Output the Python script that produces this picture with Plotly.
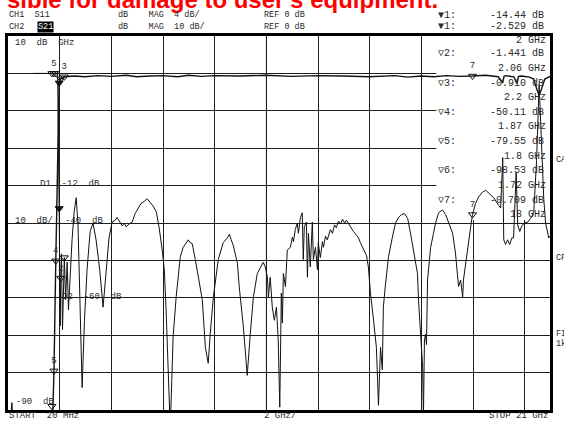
import numpy as np
import plotly.graph_objects as go

# ---------------- data ----------------
# CH2: S21, 10 dB/div, REF 0 dB (trace that sits near 0 dB above 2 GHz)
s21_freq = [0.02, 0.14, 0.17, 0.20, 0.80, 1.40, 1.72, 1.80, 1.87, 1.95,
            2.00, 2.06, 2.20, 2.60, 3.00, 3.50, 4.00, 4.60, 5.00, 5.50,
            6.00, 6.60, 7.00, 7.50, 8.00, 9.00, 10.0, 11.0, 12.0, 13.0,
            14.0, 15.0, 15.5, 16.0, 16.5, 17.0, 17.5, 18.0, 18.5, 19.0,
            19.17, 19.22, 19.30, 19.60, 19.72, 19.78, 19.90, 20.20, 20.37, 20.48,
            20.58, 20.68, 20.80, 21.0]
s21_db = [-96, -95, -88, -96, -97, -96, -98.53, -79.55, -50.11, -14.0,
          -2.529, -1.441, -0.910, -0.7, -0.9, -0.6, -0.8, -0.5, -0.9, -0.7,
          -0.6, -0.9, -0.5, -0.8, -0.6, -0.7, -0.5, -0.8, -0.6, -0.7,
          -0.9, -0.6, -1.0, -0.7, -0.9, -0.6, -0.8, -0.709, -0.5, -0.9,
          -2.5, -0.8, -0.6, -0.9, -2.7, -0.8, -0.7, -1.0, -1.5, -4.0,
          -6.0, -4.0, -1.5, -0.8]

# CH1: S11, 4 dB/div, REF 0 dB (oscillating return-loss trace)
s11_freq = [0.99, 1.45, 1.94, 2.00, 2.04, 2.06, 2.09, 2.13, 2.17, 2.20,
            2.25, 2.31, 2.36, 2.42, 2.50, 2.58, 2.66, 2.73, 2.81, 2.89,
            2.98, 3.08, 3.20, 3.31, 3.43, 3.57, 3.70, 3.82, 3.93, 4.05,
            4.17, 4.24, 4.32, 4.44, 4.52, 4.59, 4.71, 4.83, 4.94, 5.06,
            5.17, 5.29, 5.40, 5.52, 5.64, 5.76, 5.87, 5.99, 6.07, 6.14,
            6.22, 6.30, 6.36, 6.41, 6.53, 6.69, 6.80, 6.92, 7.00, 7.07,
            7.15, 7.27, 7.38, 7.46, 7.54, 7.66, 7.77, 7.85, 7.97, 8.16,
            8.35, 8.51, 8.59, 8.66, 8.74, 8.90, 8.97, 9.13, 9.28, 9.40,
            9.52, 9.67, 9.79, 9.90, 9.98, 10.06, 10.10, 10.17, 10.25, 10.33,
            10.41, 10.48, 10.54, 10.60, 10.64, 10.68, 10.76, 10.83, 10.95, 11.03,
            11.07, 11.14, 11.22, 11.26, 11.34, 11.41, 11.45, 11.49, 11.57, 11.61,
            11.65, 11.72, 11.80, 11.84, 11.92, 12.00, 12.03, 12.11, 12.19, 12.23,
            12.31, 12.38, 12.50, 12.58, 12.66, 12.73, 12.81, 12.89, 12.97, 13.05,
            13.12, 13.20, 13.28, 13.39, 13.51, 13.59, 13.66, 13.78, 13.90, 13.97,
            14.05, 14.17, 14.28, 14.36, 14.44, 14.51, 14.55, 14.63, 14.75, 14.90,
            15.02, 15.14, 15.25, 15.37, 15.49, 15.60, 15.72, 15.87, 15.91, 15.99,
            16.07, 16.10, 16.14, 16.18, 16.22, 16.26, 16.38, 16.49, 16.57, 16.69,
            16.76, 16.84, 16.96, 17.07, 17.23, 17.34, 17.42, 17.46, 17.54, 17.62,
            17.65, 17.73, 17.85, 17.93, 18.00, 18.08, 18.12, 18.24, 18.31, 18.39,
            18.51, 18.62, 18.82, 19.01, 19.09, 19.17, 19.21, 19.28, 19.36, 19.44,
            19.52, 19.59, 19.69, 19.75, 19.83, 19.91, 20.02, 20.14, 20.25, 20.37,
            20.48, 20.58, 20.68, 20.76, 20.83, 20.95, 21.00]
s11_db = [0.0, 0.0, 0.0, -14.44, -27.0, -21.9, -19.3, -27.4, -22.0, -19.7,
          -24.2, -20.2, -25.3, -21.6, -17.8, -14.8, -13.3, -16.2, -24.2, -33.6,
          -26.4, -21.0, -16.9, -16.0, -17.8, -21.0, -25.0, -21.0, -17.6, -15.9,
          -15.7, -15.4, -15.8, -16.3, -16.0, -16.4, -16.1, -15.9, -15.0, -14.4,
          -13.9, -13.7, -13.4, -13.8, -14.2, -14.8, -16.5, -18.9, -21.0, -25.3,
          -31.7, -38.0, -32.8, -28.2, -23.9, -19.6, -18.6, -18.1, -17.8, -18.1,
          -18.2, -19.9, -21.8, -23.2, -24.2, -29.3, -31.0, -27.8, -23.9, -19.9,
          -18.1, -17.6, -17.2, -17.8, -18.4, -20.3, -22.8, -27.1, -32.3, -27.8,
          -23.9, -21.4, -20.8, -20.2, -20.7, -21.8, -23.9, -21.8, -25.0, -26.4,
          -25.0, -28.5, -35.7, -23.5, -26.7, -21.4, -22.8, -18.9, -18.6, -17.5,
          -18.0, -16.7, -16.0, -17.1, -15.4, -14.9, -19.9, -16.4, -15.9, -21.8,
          -17.1, -20.7, -15.9, -19.9, -18.6, -21.0, -18.1, -19.7, -18.0, -18.6,
          -17.4, -17.8, -16.7, -17.1, -16.2, -16.5, -15.8, -16.1, -15.6, -16.0,
          -15.7, -16.1, -16.4, -16.9, -17.3, -17.6, -18.1, -18.9, -19.5, -20.7,
          -23.5, -26.4, -29.3, -35.5, -29.3, -31.7, -25.0, -22.6, -19.6, -17.5,
          -16.0, -15.4, -15.1, -15.0, -15.5, -17.1, -19.2, -21.4, -24.2, -27.8,
          -31.4, -37.0, -28.5, -27.9, -29.0, -22.1, -18.6, -17.1, -16.0, -14.9,
          -14.8, -14.6, -15.1, -15.9, -17.1, -19.2, -21.4, -22.8, -22.1, -23.9,
          -22.1, -20.3, -18.1, -16.4, -15.1, -14.4, -13.9, -13.2, -12.9, -12.7,
          -12.5, -12.8, -13.3, -14.1, -14.4, -9.0, -17.8, -18.3, -17.8, -18.3,
          -17.6, -17.6, -10.6, -16.2, -16.9, -16.3, -16.0, -15.9, -15.5, -14.9,
          -9.3, -1.2, -8.2, -13.5, -16.0, -17.6, -17.4]

# markers 1..7
marker_names = ["1", "2", "3", "4", "5", "6", "7"]
marker_freq = [2.0, 2.06, 2.2, 1.87, 1.8, 1.72, 18.0]
marker_s21 = [-2.529, -1.441, -0.910, -50.11, -79.55, -98.53, -0.709]
marker_s11 = [-14.44, -21.9, -19.7, 0.0, 0.0, 0.0, -15.1]
marker_label_s21 = ["", "", "3", "4", "5", "", "7"]
marker_label_s11 = ["", "2", "", "", "5", "", "7"]
ch1_marker1 = -14.44

assert len(s21_freq) == len(s21_db)
assert len(s11_freq) == len(s11_db)

F_START, F_STOP = 0.02, 21.0
S21_TOP, S21_BOT = 10, -90
S11_TOP, S11_BOT = 4, -36

# ---------------- figure ----------------
W, H = 564, 421
L, R, T, B = 8, 14, 36, 11
MONO = "Liberation Mono, DejaVu Sans Mono, monospace"
INK = "#2a2a2a"

fig = go.Figure()

fig.add_trace(go.Scatter(x=s21_freq, y=s21_db, mode="lines",
                         line=dict(color="#111", width=1.4), yaxis="y",
                         hoverinfo="skip"))
fig.add_trace(go.Scatter(x=s11_freq, y=s11_db, mode="lines",
                         line=dict(color="#111", width=1), yaxis="y2",
                         hoverinfo="skip"))

sym = ["triangle-down" if n == "1" else "triangle-down-open" for n in marker_names]
fig.add_trace(go.Scatter(x=marker_freq, y=np.clip(marker_s21, S21_BOT + 1, None),
                         mode="markers+text", text=marker_label_s21,
                         textposition="top center",
                         textfont=dict(family=MONO, size=9, color=INK),
                         marker=dict(symbol=sym, size=7, color="#111",
                                     line=dict(color="#111", width=1)),
                         yaxis="y", cliponaxis=False, hoverinfo="skip"))
fig.add_trace(go.Scatter(x=marker_freq, y=marker_s11,
                         mode="markers+text", text=marker_label_s11,
                         textposition="top center",
                         textfont=dict(family=MONO, size=9, color=INK),
                         marker=dict(symbol=sym, size=7, color="#111",
                                     line=dict(color="#111", width=1)),
                         yaxis="y2", cliponaxis=False, hoverinfo="skip"))

axis_common = dict(showticklabels=False, ticks="", zeroline=False,
                   showline=True, linecolor="#000", linewidth=2.5, mirror=True,
                   gridcolor="#1e1e1e", gridwidth=1)

fig.update_layout(
    width=W, height=H,
    margin=dict(l=L, r=R, t=T, b=B, pad=0),
    paper_bgcolor="white", plot_bgcolor="white",
    showlegend=False,
    xaxis=dict(range=[F_START, F_STOP], tick0=F_START, dtick=2, **axis_common),
    yaxis=dict(range=[S21_BOT, S21_TOP], tick0=0, dtick=10, **axis_common),
    yaxis2=dict(range=[S11_BOT, S11_TOP], overlaying="y", showgrid=False,
                showticklabels=False, ticks="", zeroline=False, showline=False),
)

# light centre graticule line and the blanked readout panel
fig.add_shape(type="line", xref="x", yref="paper", x0=F_START + 10, x1=F_START + 10,
              y0=0, y1=1, line=dict(color="#a8a8a8", width=1.2), layer="between")
fig.add_shape(type="rect", xref="x", yref="y", x0=16.6, x1=F_STOP, y0=-39.2, y1=S21_TOP,
              fillcolor="white", line=dict(width=0), layer="between")


def px(xp):
    return (xp - L) / (W - L - R)


def py(yp):
    return (H - B - yp) / (H - T - B)


def ann(text, xp, yp, size=8.5, anchor="left", color=INK, family=MONO, **kw):
    fig.add_annotation(text=text, x=px(xp), y=py(yp), xref="paper", yref="paper",
                       xanchor=anchor, yanchor="middle", showarrow=False,
                       borderpad=0, font=dict(family=family, size=size, color=color), **kw)


# red banner (cut off at the top)
BANNER = "sible for damage to user's equipment."
ann(BANNER, 6, -1, size=24, color="#ff0000", family="Liberation Sans, Arial, sans-serif")
fig.update_annotations(selector=dict(text=BANNER), font_weight=700)

# header
ann("CH1  S11", 8, 15)
ann("dB    MAG  4 dB/", 117, 15)
ann("REF 0 dB", 263, 15)
ann("CH2", 8, 27)
ann("S21", 37, 27, color="white", bgcolor="black")
ann("dB    MAG  10 dB/", 117, 27)
ann("REF 0 dB", 263, 27)

# marker readout
RO = 10
ann("\u25bc1:", 437, 15, size=RO)
ann(f"{ch1_marker1:.2f} dB", 545, 15, size=RO, anchor="right")
ann("\u25bc1:", 437, 27, size=RO)
ann(f"{marker_s21[0]:.3f} dB", 545, 27, size=RO, anchor="right")
ann(f"{marker_freq[0]:g} GHz", 547, 40, size=RO, anchor="right")
ro_fmt = ["{:.3f}", "{:.3f}", "{:.3f}", "{:.2f}", "{:.2f}", "{:.2f}", "{:.3f}"]
for i in range(1, 7):
    yv = 54 + (i - 1) * 29.2
    ann(f"\u25bd{marker_names[i]}:", 437, yv, size=RO)
    ann(ro_fmt[i].format(marker_s21[i]) + " dB", 545, yv, size=RO, anchor="right")
    ann(f"{marker_freq[i]:g} GHz", 547, yv + 14.5, size=RO, anchor="right")

# graticule annotations
ann("10  dB  GHz", 14, 43, size=9)
ann("D1  -12  dB", 39, 184, size=9)
ann("10  dB/", 14, 221, size=9)
ann("-40  dB", 64, 221, size=9)
ann("D2  -60  dB", 61, 297, size=9)
ann("-90  dB", 15, 402, size=9)

# bottom line
ann("START  20 MHz", 8, 416, size=9)
ann(f"{(F_STOP - F_START) / 10.49:.0f} GHz/", 263, 416, size=9)
ann(f"STOP {F_STOP:g} GHz", 549, 416, size=9, anchor="right")

# softkey labels at the right edge (cut off)
for t, yv in [("CA", 160), ("CF", 258), ("FI", 334), ("1k", 344)]:
    ann(t, 555, yv, size=8.5)

fig.write_html("out.html",
               config={"displayModeBar": False},
               post_script="document.body.style.margin='0';"
                           "document.body.style.overflow='hidden';")
